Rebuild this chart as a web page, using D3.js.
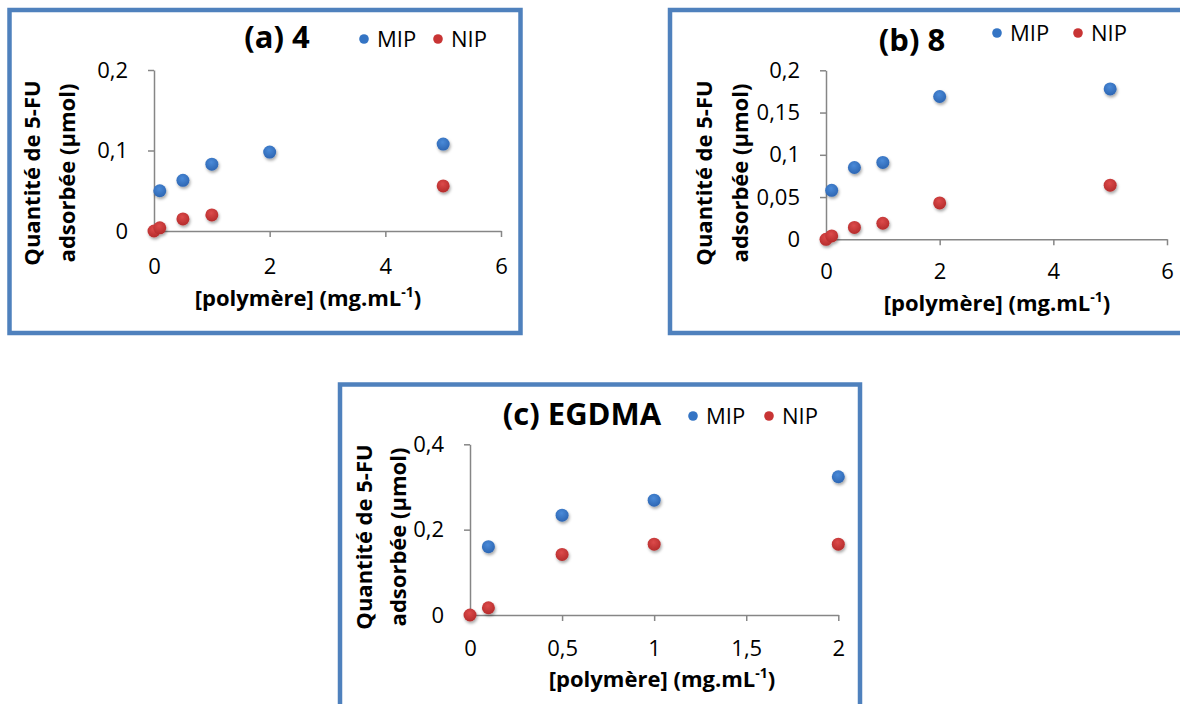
<!DOCTYPE html>
<html>
<head>
<meta charset="utf-8">
<script src="https://cdn.jsdelivr.net/npm/d3@7"></script>
<style>
  body { margin: 0; background: #fff; }
  svg { display: block; font-family: "Open Sans", Lato, sans-serif; }
  .axis path, .axis line { stroke: #868686; stroke-width: 1.5; }
  .axis text { font-size: 22px; fill: #000; font-family: "Open Sans", sans-serif; }
</style>
</head>
<body>
<div id="chart"></div>
<script>
// data
let series_names = ["MIP", "NIP"];

// (a) 4
let a_mip_x = [0.1, 0.5, 1, 2, 5];
let a_mip_y = [0.050, 0.063, 0.083, 0.098, 0.108];
let a_nip_x = [0, 0.1, 0.5, 1, 5];
let a_nip_y = [0, 0.004, 0.015, 0.020, 0.056];
let a_x_ticks = [0, 2, 4, 6];
let a_y_ticks = [0, 0.1, 0.2];

// (b) 8
let b_mip_x = [0.1, 0.5, 1, 2, 5];
let b_mip_y = [0.058, 0.085, 0.091, 0.169, 0.178];
let b_nip_x = [0, 0.1, 0.5, 1, 2, 5];
let b_nip_y = [0, 0.004, 0.014, 0.019, 0.043, 0.064];
let b_x_ticks = [0, 2, 4, 6];
let b_y_ticks = [0, 0.05, 0.1, 0.15, 0.2];

// (c) EGDMA
let c_mip_x = [0.1, 0.5, 1, 2];
let c_mip_y = [0.160, 0.234, 0.269, 0.324];
let c_nip_x = [0, 0.1, 0.5, 1, 2];
let c_nip_y = [0, 0.017, 0.142, 0.166, 0.166];
let c_x_ticks = [0, 0.5, 1, 1.5, 2];
let c_y_ticks = [0, 0.2, 0.4];

let y_label_lines = ["Quantité de 5-FU", "adsorbée (µmol)"];
let x_label_main = "[polymère] (mg.mL";
let x_label_sup = "-1";

const W = 1180, H = 704;
const MIP_COLOR = "#3474c4", NIP_COLOR = "#c83434";
const FRAME = "#4f81bd";

let svg = d3.select("#chart").append("svg")
    .attr("width", W)
    .attr("height", H);

let defs = svg.append("defs");
let shadow = defs.append("filter").attr("id", "shadow")
    .attr("x", "-50%").attr("y", "-50%").attr("width", "200%").attr("height", "200%");
shadow.append("feDropShadow")
    .attr("dx", 1).attr("dy", 2)
    .attr("stdDeviation", 1.4)
    .attr("flood-color", "#000")
    .attr("flood-opacity", 0.35);

function grad(id, light, dark) {
    let g = defs.append("radialGradient").attr("id", id)
        .attr("cx", "45%").attr("cy", "35%").attr("r", "65%");
    g.append("stop").attr("offset", "0%").attr("stop-color", light);
    g.append("stop").attr("offset", "100%").attr("stop-color", dark);
}
grad("gMIP", "#4a8ad8", "#2d66b3");
grad("gNIP", "#dc4a4a", "#b52c2c");

let fmt = d => String(d).replace(".", ",");

function zip(xs, ys) {
    return xs.map((x, i) => ({x: x, y: ys[i]}));
}

function drawPanel(p) {
    // frame
    svg.append("rect")
        .attr("x", p.frame[0]).attr("y", p.frame[1])
        .attr("width", p.frame[2]).attr("height", p.frame[3])
        .attr("fill", "none")
        .attr("stroke", FRAME)
        .attr("stroke-width", 4.5);

    let x = d3.scaleLinear().domain(p.xDomain).range(p.xRange);
    let y = d3.scaleLinear().domain(p.yDomain).range(p.yRange);

    svg.append("g")
        .attr("class", "axis")
        .attr("transform", `translate(0, ${p.yRange[0]})`)
        .call(d3.axisBottom(x).tickValues(p.xTicks).tickFormat(fmt)
            .tickSize(6).tickSizeOuter(0).tickPadding(p.xPad));

    svg.append("g")
        .attr("class", "axis")
        .attr("transform", `translate(${p.xRange[0]}, 0)`)
        .call(d3.axisLeft(y).tickValues(p.yTicks).tickFormat(fmt)
            .tickSize(6).tickSizeOuter(0).tickPadding(20));

    svg.selectAll(".axis .domain").attr("stroke", "#868686");

    // points
    let groups = [
        {data: zip(p.mipX, p.mipY), fill: "url(#gMIP)"},
        {data: zip(p.nipX, p.nipY), fill: "url(#gNIP)"}
    ];
    groups.forEach(function(gr) {
        svg.append("g").attr("filter", "url(#shadow)")
            .selectAll("circle")
            .data(gr.data)
            .enter()
            .append("circle")
            .attr("cx", d => x(d.x))
            .attr("cy", d => y(d.y))
            .attr("r", 6.5)
            .attr("fill", gr.fill);
    });

    // title
    svg.append("text")
        .attr("x", p.title[1]).attr("y", p.title[2])
        .attr("text-anchor", "middle")
        .style("font-size", "31px")
        .style("font-weight", 700)
        .text(p.title[0]);

    // legend
    let colors = [MIP_COLOR, NIP_COLOR];
    let lx = p.legend[0];
    series_names.forEach(function(name, i) {
        let cx = lx + i * p.legend[2];
        svg.append("circle")
            .attr("cx", cx).attr("cy", p.legend[1])
            .attr("r", 4.8)
            .attr("fill", colors[i]);
        svg.append("text")
            .attr("x", cx + 13).attr("y", p.legend[1] + 8)
            .style("font-size", "22px")
            .text(name);
    });

    // y label
    let yl = svg.append("g")
        .attr("transform", `translate(${p.yLabel[0]}, ${p.yLabel[2]}) rotate(-90)`);
    y_label_lines.forEach(function(line, i) {
        yl.append("text")
            .attr("x", 0)
            .attr("y", i * (p.yLabel[1] - p.yLabel[0]))
            .attr("dy", "0.36em")
            .attr("text-anchor", "middle")
            .style("font-size", "22px")
            .style("font-weight", 700)
            .text(line);
    });

    // x label
    let xl = svg.append("text")
        .attr("x", p.xLabel[0]).attr("y", p.xLabel[1])
        .attr("text-anchor", "middle")
        .style("font-size", "22px")
        .style("font-weight", 700);
    xl.append("tspan").text(x_label_main);
    xl.append("tspan").attr("dy", -9).style("font-size", "14px").text(x_label_sup);
    xl.append("tspan").attr("dy", 9).text(")");
}

drawPanel({
    frame: [9.5, 10, 511, 323],
    xDomain: [0, 6], yDomain: [0, 0.2],
    xRange: [154, 501], yRange: [231, 70],
    xTicks: a_x_ticks, yTicks: a_y_ticks, xPad: 21,
    mipX: a_mip_x, mipY: a_mip_y, nipX: a_nip_x, nipY: a_nip_y,
    title: ["(a) 4", 277, 48],
    legend: [364, 39, 74],
    yLabel: [32, 67, 173],
    xLabel: [308, 306]
});

drawPanel({
    frame: [670, 10, 600, 323],
    xDomain: [0, 6], yDomain: [0, 0.2],
    xRange: [826, 1167], yRange: [239.3, 70.3],
    xTicks: b_x_ticks, yTicks: b_y_ticks, xPad: 18,
    mipX: b_mip_x, mipY: b_mip_y, nipX: b_nip_x, nipY: b_nip_y,
    title: ["(b) 8", 912, 51],
    legend: [997, 33, 81],
    yLabel: [704, 740, 173],
    xLabel: [997, 311]
});

drawPanel({
    frame: [340, 384.5, 520, 400],
    xDomain: [0, 2], yDomain: [0, 0.4],
    xRange: [470, 838.3], yRange: [615, 444.3],
    xTicks: c_x_ticks, yTicks: c_y_ticks, xPad: 19,
    mipX: c_mip_x, mipY: c_mip_y, nipX: c_nip_x, nipY: c_nip_y,
    title: ["(c) EGDMA", 582, 425],
    legend: [693, 416, 76],
    yLabel: [364, 398, 537],
    xLabel: [662, 687]
});
</script>
</body>
</html>
